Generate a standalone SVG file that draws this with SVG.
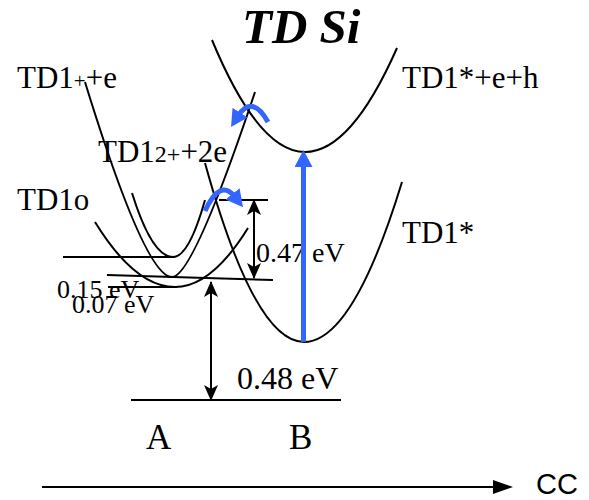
<svg xmlns="http://www.w3.org/2000/svg" width="589" height="500" viewBox="0 0 589 500">
<style>
.t{font-family:"Liberation Serif","Times New Roman",serif;font-size:31px;fill:#000}
.c{fill:none;stroke:#000;stroke-width:2}
.l{fill:none;stroke:#000;stroke-width:2}
.b{fill:none;stroke:#3366ff;stroke-width:5}
</style>
<defs>
<marker id="ah" markerUnits="userSpaceOnUse" markerWidth="16" markerHeight="14" refX="15" refY="7" orient="auto">
<path d="M0,0 L16,7 L0,14 L4,7 Z" fill="#000"/>
</marker>
<marker id="bh" markerUnits="userSpaceOnUse" markerWidth="17" markerHeight="18" refX="4" refY="9" orient="auto">
<path d="M0,0 L17,9 L0,18 Z" fill="#3366ff"/>
</marker>
<marker id="ch" markerUnits="userSpaceOnUse" markerWidth="20" markerHeight="14" refX="2" refY="7" orient="auto">
<path d="M0,0 L20,7 L0,14 Z" fill="#000"/>
</marker>
</defs>
<g id="title"><text class="t" x="242" y="43" style="font-size:49px;font-weight:bold;font-style:italic">TD Si</text></g>
<g id="td1plus">
<path class="c" d="M85,82 Q145,277 172,277 Q193,277 255,92"/>
<text class="t" x="17" y="88">TD1<tspan style="font-size:21px">+</tspan>+e</text>
</g>
<g id="td12plus">
<text class="t" x="98" y="162">TD1<tspan style="font-size:24px">2+</tspan>+2e</text>
</g>
<g id="td1o">
<path class="c" d="M132,193 Q152,257 173,257 Q189,257 205,200"/>
<text class="t" x="17" y="210">TD1o</text>
</g>
<g id="td1low">
<path class="c" d="M95,222 Q135,287 175,287 Q211.5,287 248,228"/>
</g>
<g id="td1star">
<path class="c" d="M205,163 Q254.5,342 304,342 Q353,342 402,182"/>
<text class="t" x="402" y="243">TD1*</text>
</g>
<g id="td1starEH">
<path class="c" d="M212,40 Q258.5,152 305,152 Q351,152 397,48"/>
<text class="t" x="402" y="88">TD1*+e+h</text>
</g>
<g id="levels">
<line class="l" x1="63" y1="257" x2="175" y2="257"/>
<line class="l" x1="107" y1="275" x2="273" y2="280"/>
<line class="l" x1="108" y1="287" x2="177" y2="287"/>
<line class="l" x1="219" y1="200" x2="268" y2="200"/>
<line class="l" x1="131" y1="400" x2="341" y2="400"/>
<text class="t" x="57" y="298" style="font-size:26px">0.15 eV</text>
<text class="t" x="72" y="313" style="font-size:26px">0.07 eV</text>
<text class="t" x="256" y="262" style="font-size:28px">0.47 eV</text>
<text class="t" x="237" y="389" style="font-size:32px">0.48 eV</text>
<text class="t" x="146" y="449" style="font-size:35px">A</text>
<text class="t" x="289" y="449" style="font-size:35px">B</text>
</g>
<g id="connectors">
<line class="l" x1="254" y1="239" x2="254" y2="200" marker-end="url(#ah)"/>
<line class="l" x1="254" y1="239" x2="254" y2="278" marker-end="url(#ah)"/>
<line class="l" x1="211" y1="340" x2="211" y2="282" marker-end="url(#ah)"/>
<line class="l" x1="211" y1="340" x2="211" y2="400" marker-end="url(#ah)"/>
<line class="b" x1="303.5" y1="342" x2="303.5" y2="163" marker-end="url(#bh)"/>
<path class="b" d="M268,122 Q252,94 238,116" marker-end="url(#bh)"/>
<path class="b" d="M205,211 Q220,178 235,197" marker-end="url(#bh)"/>
<line class="l" x1="42" y1="487" x2="495" y2="487" marker-end="url(#ch)"/>
</g>
<g id="axis"><text x="536" y="494" font-family="Liberation Sans, Arial, sans-serif" font-size="29">CC</text></g>
</svg>
